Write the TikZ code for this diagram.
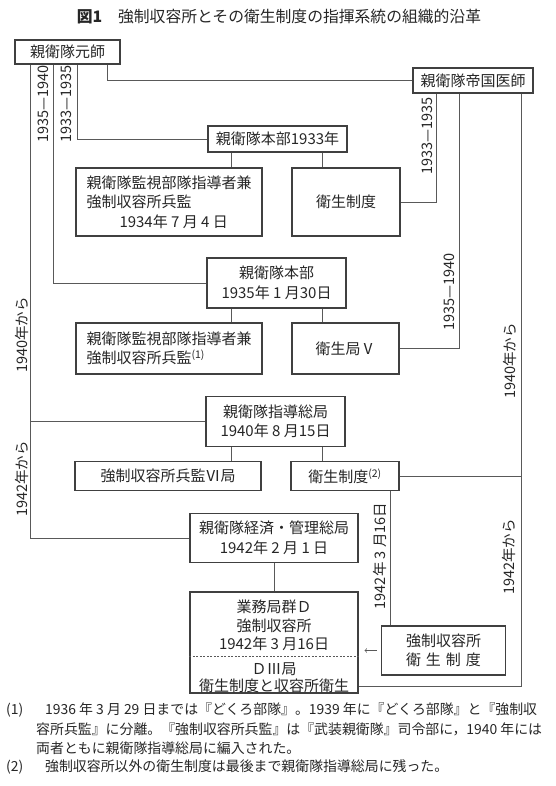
\documentclass[tikz,border=0pt]{standalone}
\usepackage{fontspec}
\setmainfont{Noto Sans CJK JP}

\begin{document}
\begin{tikzpicture}[
        x=1pt, y=-1pt,
        plain text/.style={text=black!85, align=center, inner sep=0pt, font=\fontsize{15}{19.5}\selectfont},
        org box/.style={plain text, draw=black!75, line width=1.1pt},
        link/.style={draw=black!65, line width=0.7pt},
        period/.style={rotate=90, inner sep=0pt, text=black!85, font=\fontsize{14.5}{17}\selectfont},
        note/.style={anchor=west, inner sep=0pt, text=black!85, font=\fontsize{13.9}{18}\selectfont},
    ]

    \useasboundingbox (0,0) rectangle (555,786);

    % Title
    \node[text=black!85, font=\fontsize{15.8}{18}\selectfont] (title) at (279,17) {{\bfseries 図1}\hspace{1em}強制収容所とその衛生制度の指揮系統の組織的沿革};

    % Trunk lines (x positions)
    \coordinate (trunkA) at (30,0);
    \coordinate (trunkB) at (53,0);
    \coordinate (trunkC) at (77,0);
    \coordinate (trunkD) at (107,0);
    \coordinate (trunkE) at (436,0);
    \coordinate (trunkF) at (459,0);
    \coordinate (trunkG) at (521,0);
    \coordinate (drop1) at (231,0);
    \coordinate (drop2) at (322.5,0);
    \coordinate (drop3) at (390,0);

    % Top level
    \node[org box, minimum width=105, minimum height=24] (marshal) at (67.5,52) {親衛隊元師};
    \node[org box, minimum width=120, minimum height=25] (reichsarzt) at (473,80.5) {親衛隊帝国医師};

    % 1933
    \node[org box, minimum width=139, minimum height=26] (hq33) at (277.5,139) {親衛隊本部1933年};
    \node[org box, minimum width=186, minimum height=68, align=left] (insp34) at (169,202) {親衛隊監視部隊指導者兼\\強制収容所兵監\\\hspace*{2.2em}1934年 7 月 4 日};
    \node[org box, minimum width=108, minimum height=68] (med33) at (346,202) {衛生制度};

    % 1935
    \node[org box, minimum width=139, minimum height=50] (hq35) at (276.5,283) {親衛隊本部\\1935年 1 月30日};
    \node[org box, minimum width=186, minimum height=51, align=left] (insp35) at (169,348.5) {親衛隊監視部隊指導者兼\\強制収容所兵監\textsuperscript{(1)}};
    \node[org box, minimum width=107, minimum height=51] (med35) at (345.5,348.5) {衛生局Ⅴ};

    % 1940
    \node[org box, minimum width=139, minimum height=50] (fha40) at (275.5,421.5) {親衛隊指導総局\\1940年 8 月15日};
    \node[org box, minimum width=186, minimum height=29] (insp40) at (168,476) {強制収容所兵監Ⅵ局};
    \node[org box, minimum width=108, minimum height=29] (med40) at (345,476) {衛生制度\textsuperscript{(2)}};

    % 1942
    \node[org box, minimum width=168, minimum height=49] (wvha) at (274,538) {親衛隊経済・管理総局\\1942年 2 月 1 日};
    \node[org box, minimum width=168, minimum height=101] (amtd) at (274,642.5) {};
    \node[plain text, font=\fontsize{15}{18.5}\selectfont] (amtdtop) at (274,625.5) {業務局群Ｄ\\強制収容所\\1942年 3 月16日};
    \node[plain text, font=\fontsize{15}{17}\selectfont] (amtdbot) at (274,677.5) {ＤⅢ局\\衛生制度と収容所衛生};
    \coordinate (divider) at (0,656);
    \coordinate (amtdline) at (0,686);
    \draw[dashed, black!65, line width=0.6pt, dash pattern=on 2pt off 1.5pt] (amtd.west |- divider) -- (amtd.east |- divider);
    \node[org box, minimum width=124, minimum height=49] (campmed) at (443.5,650.5) {強制収容所\\衛\hspace{0.333em}生\hspace{0.333em}制\hspace{0.333em}度};

    % Lines from 親衛隊元師
    \draw[link] (marshal.south -| trunkA) |- (wvha.west);
    \draw[link] (trunkA |- fha40.west) -- (fha40.west);
    \draw[link] (marshal.south -| trunkB) |- (hq35.west);
    \draw[link] (marshal.south -| trunkC) |- (hq33.west);
    \draw[link] (marshal.south -| trunkD) |- (reichsarzt.west);

    % Lines from 親衛隊帝国医師
    \draw[link] (reichsarzt.south -| trunkE) |- (med33.east);
    \draw[link] (reichsarzt.south -| trunkF) |- (med35.east);
    \draw[link] (reichsarzt.south -| trunkG) |- (amtd.east |- amtdline);
    \draw[link] (med40.east) -- (med40.east -| trunkG);

    % Offices to sub-units
    \draw[link] (hq33.south -| drop1) -- (insp34.north -| drop1);
    \draw[link] (hq33.south -| drop2) -- (med33.north -| drop2);
    \draw[link] (hq35.south -| drop1) -- (insp35.north -| drop1);
    \draw[link] (hq35.south -| drop2) -- (med35.north -| drop2);
    \draw[link] (fha40.south -| drop1) -- (insp40.north -| drop1);
    \draw[link] (fha40.south -| drop2) -- (med40.north -| drop2);
    \draw[link] (med40.south -| drop3) -- (campmed.north -| drop3);
    \draw[link] (wvha) -- (amtd);
    \draw[link, ->, shorten <=4pt, shorten >=6pt] (campmed.west) -- (campmed.west -| amtd.east);

    % Periods
    \node[period] (p1) at (43,104) {1935—1940};
    \node[period] (p2) at (66,104) {1933—1935};
    \node[period] (p3) at (427,136) {1933—1935};
    \node[period] (p4) at (449,292) {1935—1940};
    \node[period] (p5) at (22,335) {1940年から};
    \node[period] (p6) at (22,479) {1942年から};
    \node[period] (p7) at (510,361) {1940年から};
    \node[period] (p8) at (509,557) {1942年から};
    \node[period] (p9) at (380,556) {1942年 3 月16日};

    % Notes
    \node[note] (fn1) at (6,710) {\makebox[39pt][l]{(1)}1936 年 3 月 29 日までは『どくろ部隊』。1939 年に『どくろ部隊』と『強制収};
    \node[note] (fn1b) at (36,729) {容所兵監』に分離。『強制収容所兵監』は『武装親衛隊』司令部に，1940 年には};
    \node[note] (fn1c) at (36,748) {両者ともに親衛隊指導総局に編入された。};
    \node[note] (fn2) at (6,767) {\makebox[39pt][l]{(2)}強制収容所以外の衛生制度は最後まで親衛隊指導総局に残った。};

\end{tikzpicture}
\end{document}
